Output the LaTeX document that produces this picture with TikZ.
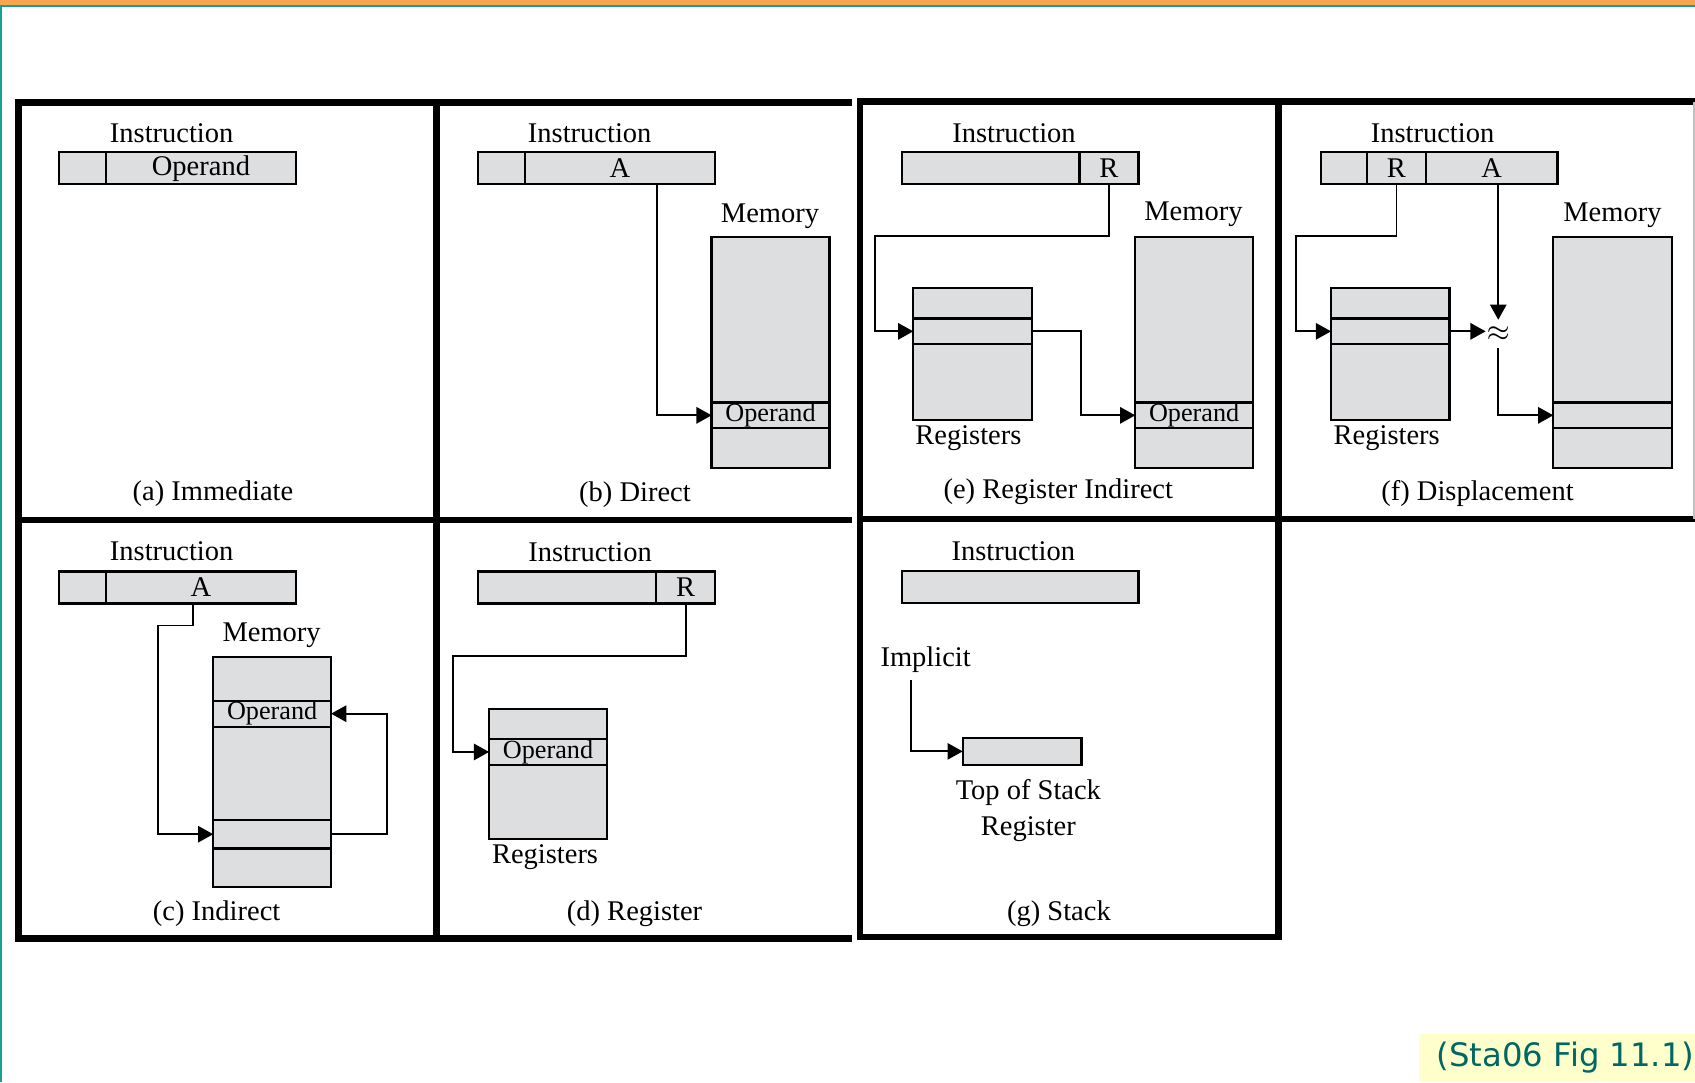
\documentclass[tikz,border=0pt]{standalone}
\usepackage{fontspec}
\setmainfont{Liberation Serif}
\newfontfamily\notefont{DejaVu Sans}
\usepackage{tikz}
\usetikzlibrary{arrows.meta,positioning,calc}

\definecolor{cellgray}{RGB}{221,222,224}
\definecolor{topbar}{RGB}{249,164,78}
\definecolor{edgeteal}{RGB}{24,160,150}
\definecolor{noteteal}{RGB}{0,104,100}
\definecolor{notebg}{RGB}{255,255,204}

\begin{document}
\begin{tikzpicture}[
  font=\fontsize{7.5}{9}\selectfont,
  txt/.style={inner sep=0pt},
  small/.style={font=\fontsize{6.9}{8}\selectfont},
  cell/.style={draw,fill=cellgray,line width=0.6pt,inner sep=0pt,outer sep=0pt,minimum height=0.296cm},
  frame/.style={line width=1.7pt,line join=miter},
  link/.style={line width=0.5pt,-{Triangle[length=4pt,width=4.3pt]}}]

\useasboundingbox (0,0) rectangle (15.68,-10.01);

% slide edges
\fill[topbar] (0,0) rectangle (15.68,-0.042);
\fill[edgeteal] (0,-0.042) rectangle (15.68,-0.065);
\fill[edgeteal] (0,-0.042) rectangle (0.02,-10.01);

% panel frames
\draw[frame] (7.88,-0.95) -- (0.17,-0.95) -- (0.17,-8.68) -- (7.88,-8.68);
\draw[frame] (0.17,-4.81) -- (7.88,-4.81);
\draw[frame] (4.036,-0.95) -- (4.036,-8.68);
\draw[frame] (15.68,-0.94) -- (7.956,-0.94) -- (7.956,-8.67) -- (11.826,-8.67) -- (11.826,-0.94);
\draw[frame] (7.956,-4.80) -- (15.68,-4.80);
\draw[gray!50,line width=0.4pt] (15.67,-0.94) -- (15.67,-4.80);

% (a) immediate
\node[txt] (aIns) at (1.588,-1.233) {Instruction};
\node[cell,minimum width=0.43cm] (aF1) at (0.764,-1.557) {};
\node[cell,minimum width=1.76cm,right=0pt of aF1] (aOp) {Operand};
\node[txt] (aCap) at (1.97,-4.57) {(a) Immediate};

% (b) direct
\node[txt] (bIns) at (5.455,-1.233) {Instruction};
\node[cell,minimum width=0.43cm] (bF1) at (4.64,-1.557) {};
\node[cell,minimum width=1.76cm,right=0pt of bF1] (bA) {A};
\node[txt] (bMem) at (7.123,-2.004) {Memory};
\node[cell,minimum width=1.09cm,minimum height=1.532cm] (bM1) at (7.128,-2.956) {};
\node[cell,small,minimum width=1.09cm,minimum height=0.24cm,below=0pt of bM1] (bOp) {Operand};
\node[cell,minimum width=1.09cm,minimum height=0.366cm,below=0pt of bOp] (bM3) {};
\draw[link] ([xshift=0.346cm]bA.south) |- (bOp.west);
\node[txt] (bCap) at (5.874,-4.579) {(b) Direct};

% (e) register indirect
\node[txt] (eIns) at (9.38,-1.233) {Instruction};
\node[cell,minimum width=1.645cm] (eF1) at (9.1635,-1.557) {};
\node[cell,minimum width=0.545cm,right=0pt of eF1] (eR) {R};
\node[cell,minimum width=1.095cm,minimum height=0.278cm] (eG1) at (8.996,-2.806) {};
\node[cell,minimum width=1.095cm,minimum height=0.24cm,below=0pt of eG1] (eRow) {};
\node[cell,minimum width=1.095cm,minimum height=0.697cm,below=0pt of eRow] (eG3) {};
\node[txt] (eRegs) at (8.958,-4.055) {Registers};
\node[txt] (eMem) at (11.04,-1.983) {Memory};
\node[cell,minimum width=1.09cm,minimum height=1.532cm] (eM1) at (11.047,-2.956) {};
\node[cell,small,minimum width=1.09cm,minimum height=0.24cm,below=0pt of eM1] (eOp) {Operand};
\node[cell,minimum width=1.09cm,minimum height=0.366cm,below=0pt of eOp] (eM3) {};
\draw[link] (eR.south) -- ++(0,-0.478) -| ([xshift=-0.355cm]eRow.west) -- (eRow.west);
\draw[link] (eRow.east) -- ++(0.457,0) |- (eOp.west);
\node[txt] (eCap) at (9.79,-4.548) {(e) Register Indirect};

% (f) displacement
\node[txt] (fIns) at (13.252,-1.233) {Instruction};
\node[cell,minimum width=0.43cm] (fF1) at (12.433,-1.557) {};
\node[cell,minimum width=0.54cm,right=0pt of fF1] (fR) {R};
\node[cell,minimum width=1.22cm,right=0pt of fR] (fA) {A};
\node[cell,minimum width=1.095cm,minimum height=0.278cm] (fG1) at (12.8605,-2.806) {};
\node[cell,minimum width=1.095cm,minimum height=0.24cm,below=0pt of fG1] (fRow) {};
\node[cell,minimum width=1.095cm,minimum height=0.697cm,below=0pt of fRow] (fG3) {};
\node[txt] (fRegs) at (12.828,-4.055) {Registers};
\node[txt] (fMem) at (14.916,-1.989) {Memory};
\node[cell,minimum width=1.096cm,minimum height=1.532cm] (fM1) at (14.917,-2.956) {};
\node[cell,minimum width=1.096cm,minimum height=0.24cm,below=0pt of fM1] (fSlot) {};
\node[cell,minimum width=1.096cm,minimum height=0.366cm,below=0pt of fSlot] (fM3) {};
\node[inner sep=0pt,minimum height=0.25cm] (fSum) at (13.86,-3.09) {$\approx$};
\draw[link] (fR.south) -- ++(0,-0.478) -| ([xshift=-0.327cm]fRow.west) -- (fRow.west);
\draw[link] (fRow.east) -- (fRow.east -| fSum.west);
\draw[link] (fA.south -| fSum.north) -- (fSum.north);
\draw[link] (fSum.south) |- (fSlot.west);
\node[txt] (fCap) at (13.668,-4.564) {(f) Displacement};

% (c) indirect
\node[txt] (cIns) at (1.588,-5.103) {Instruction};
\node[cell,minimum width=0.43cm] (cF1) at (0.764,-5.435) {};
\node[cell,minimum width=1.76cm,right=0pt of cF1] (cA) {A};
\node[txt] (cMem) at (2.513,-5.874) {Memory};
\node[cell,minimum width=1.09cm,minimum height=0.407cm] (cM1) at (2.5175,-6.2785) {};
\node[cell,small,minimum width=1.09cm,minimum height=0.24cm,below=0pt of cM1] (cOp) {Operand};
\node[cell,minimum width=1.09cm,minimum height=0.864cm,below=0pt of cOp] (cM3) {};
\node[cell,minimum width=1.09cm,minimum height=0.262cm,below=0pt of cM3] (cPtr) {};
\node[cell,minimum width=1.09cm,minimum height=0.354cm,below=0pt of cPtr] (cM5) {};
\draw[link] ([xshift=-0.077cm]cA.south) -- ++(0,-0.203) -| ([xshift=-0.508cm]cPtr.west) -- (cPtr.west);
\draw[link] (cPtr.east) -- ++(0.515,0) |- (cOp.east);
\node[txt] (cCap) at (2.004,-8.449) {(c) Indirect};

% (d) register
\node[txt] (dIns) at (5.458,-5.11) {Instruction};
\node[cell,minimum width=1.645cm] (dF1) at (5.2475,-5.435) {};
\node[cell,minimum width=0.545cm,right=0pt of dF1] (dR) {R};
\node[cell,minimum width=1.09cm,minimum height=0.277cm] (dG1) at (5.0695,-6.6975) {};
\node[cell,small,minimum width=1.09cm,minimum height=0.24cm,below=0pt of dG1] (dOp) {Operand};
\node[cell,minimum width=1.09cm,minimum height=0.684cm,below=0pt of dOp] (dG3) {};
\draw[link] (dR.south) -- ++(0,-0.487) -| ([xshift=-0.333cm]dOp.west) -- (dOp.west);
\node[txt] (dRegs) at (5.042,-7.931) {Registers};
\node[txt] (dCap) at (5.87,-8.449) {(d) Register};

% (g) stack
\node[txt] (gIns) at (9.374,-5.103) {Instruction};
\node[cell,minimum width=2.19cm] (gI) at (9.436,-5.427) {};
\node[txt] (gImp) at (8.563,-6.105) {Implicit};
\node[cell,minimum width=1.10cm,minimum height=0.253cm] (gTos) at (9.4555,-6.9505) {};
\node[txt,align=center,font=\fontsize{7.5}{9.4}\selectfont] (gTosLbl) at (9.513,-7.498) {Top of Stack\\Register};
\draw[link] ([xshift=-0.136cm,yshift=-0.06cm]gImp.south) |- (gTos.west);
\node[txt] (gCap) at (9.796,-8.449) {(g) Stack};

% source note
\fill[notebg] (13.13,-9.565) rectangle (15.68,-10.01);
\node[anchor=east,inner sep=0pt,text=noteteal,font=\notefont\fontsize{8.5}{10}\selectfont] (note) at (15.68,-9.78) {(Sta06 Fig 11.1)};

\end{tikzpicture}
\end{document}
